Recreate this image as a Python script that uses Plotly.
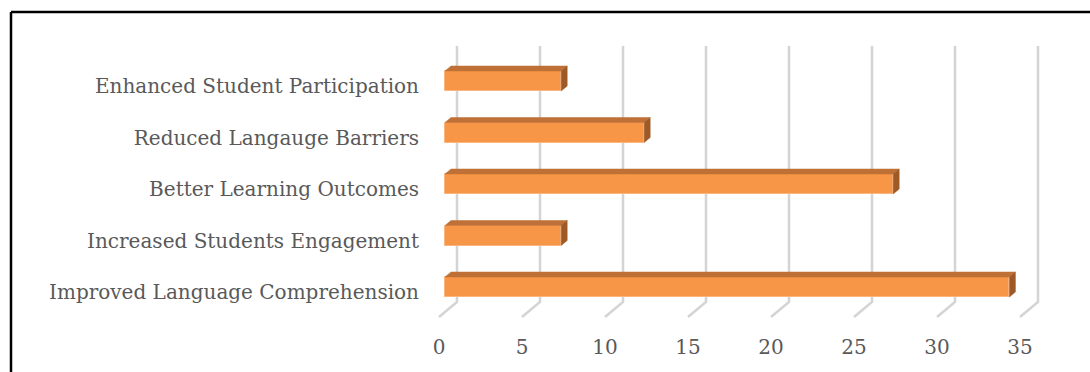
import plotly.graph_objects as go

# ---- data ----
categories = [
    "Improved Language Comprehension",
    "Increased Students Engagement",
    "Better Learning Outcomes",
    "Reduced Langauge Barriers",
    "Enhanced Student Participation",
]
values = [34, 7, 27, 12, 7]
x_ticks = [0, 5, 10, 15, 20, 25, 30, 35]

# ---- geometry (pixel layout -> axis units) ----
W, H = 1090, 372
ML, MR, MT, MB = 423, 20, 20, 54
PW, PH = W - ML - MR, H - MT - MB
XPX = 16.6     # px per x unit
YPX = 51.5     # px per category step
x0 = -(439 - ML) / XPX
x1 = x0 + PW / XPX
y0 = (287 - (H - MB)) / YPX
y1 = y0 + PH / YPX

bar_off = 6 / XPX       # bar front plane offset from floor front edge
depth_x = 6 / XPX       # bar depth in x
depth_y = 5 / YPX       # bar depth in y
wall_x = 18 / XPX       # back wall offset
bar_w = 20 / YPX
grid_top = (287 - 46) / YPX
floor_back = (287 - 302) / YPX
floor_front = (287 - 317) / YPX

FRONT = "#F79646"
TOP = "#BE7036"
SIDE = "#9E5A26"
GRID = "#D4D4D4"
TXT = "#595959"
FONT = "DejaVu Serif"

fig = go.Figure()

# gridlines (back wall + floor diagonal) on the base axes
for t in x_ticks:
    fig.add_trace(go.Scatter(
        x=[t + wall_x, t + wall_x, t],
        y=[grid_top, floor_back, floor_front],
        mode="lines", line=dict(color=GRID, width=2.5),
        hoverinfo="skip", showlegend=False, xaxis="x", yaxis="y"))

# bar front faces on overlay axes (drawn above gridlines)
fig.add_trace(go.Bar(
    y=list(range(len(categories))), x=values, base=bar_off,
    orientation="h", width=bar_w,
    marker=dict(color=FRONT, line=dict(color="#FBB57F", width=1)),
    showlegend=False, xaxis="x2", yaxis="y2"))

# top and side faces
for i, v in enumerate(values):
    yt = i + bar_w / 2
    yb = i - bar_w / 2
    xs, xe = bar_off, bar_off + v
    fig.add_trace(go.Scatter(
        x=[xs, xe, xe + depth_x, xs + depth_x, xs],
        y=[yt, yt, yt + depth_y, yt + depth_y, yt],
        fill="toself", fillcolor=TOP, mode="lines",
        line=dict(color=TOP, width=0.5), hoverinfo="skip", showlegend=False,
        xaxis="x2", yaxis="y2"))
    fig.add_trace(go.Scatter(
        x=[xe, xe + depth_x, xe + depth_x, xe, xe],
        y=[yt, yt + depth_y, yb + depth_y, yb, yt],
        fill="toself", fillcolor=SIDE, mode="lines",
        line=dict(color=SIDE, width=0.5), hoverinfo="skip", showlegend=False,
        xaxis="x2", yaxis="y2"))

# chart frame (left and top edges)
def px_to_paper_x(px):
    return (px - ML) / PW

def px_to_paper_y(py):
    return (H - MB - py) / PH

frame = dict(color="black", width=2.5)
fig.add_shape(type="line", xref="paper", yref="paper",
              x0=px_to_paper_x(11), x1=px_to_paper_x(11),
              y0=px_to_paper_y(12), y1=px_to_paper_y(372), line=frame)
fig.add_shape(type="line", xref="paper", yref="paper",
              x0=px_to_paper_x(11), x1=px_to_paper_x(1090),
              y0=px_to_paper_y(12), y1=px_to_paper_y(12), line=frame)

hidden = dict(showgrid=False, zeroline=False, showline=False, ticks="",
              showticklabels=False, fixedrange=True)

fig.update_layout(
    width=W, height=H,
    margin=dict(l=ML, r=MR, t=MT, b=MB, pad=0),
    paper_bgcolor="white", plot_bgcolor="white",
    font=dict(family=FONT, size=20, color=TXT),
    xaxis=dict(range=[x0, x1], tickvals=x_ticks, ticktext=[str(t) for t in x_ticks],
               showgrid=False, zeroline=False, showline=False, ticks="",
               ticklabelstandoff=15, fixedrange=True),
    yaxis=dict(range=[y0, y1], tickvals=[i - 0.1 for i in range(len(categories))],
               ticktext=categories, showgrid=False, zeroline=False, showline=False,
               ticks="", ticklabelstandoff=3, fixedrange=True),
    xaxis2=dict(range=[x0, x1], overlaying="x", **hidden),
    yaxis2=dict(range=[y0, y1], overlaying="y", **hidden),
    bargap=0,
)

fig.write_html("out.html")
